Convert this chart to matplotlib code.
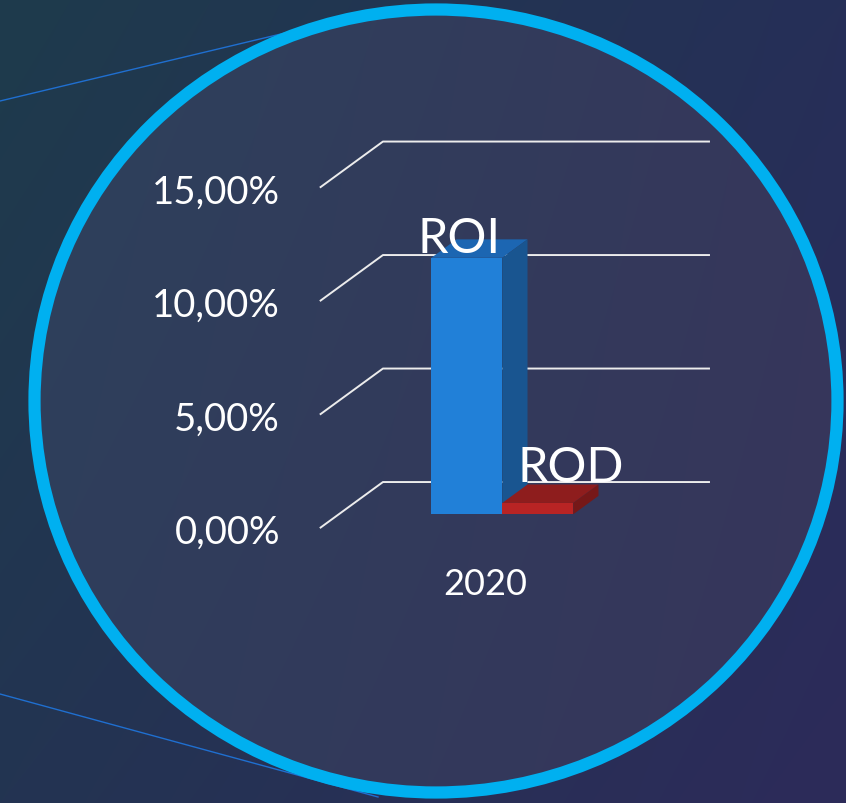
import numpy as np
import matplotlib.pyplot as plt
from matplotlib.patches import Ellipse, Polygon, Rectangle
from matplotlib.colors import to_rgb

# data
categories = ['2020']
series = ['ROI', 'ROD']
values = [11.3, 0.5]          # percent, one value per series for 2020
ticks = [0, 5, 10, 15]
tick_labels = ['0,00%', '5,00%', '10,00%', '15,00%']

W, H = 846, 804
FONT = 'Lato'

fig = plt.figure(figsize=(W / 100, H / 100), dpi=100)

# ---- background layer in pixel units ----
bg = fig.add_axes([0, 0, 1, 1])
bg.set_xlim(0, W)
bg.set_ylim(H, 0)
bg.axis('off')


def gradient(tl, tr, bl, br):
    tl, tr, bl, br = (np.array(to_rgb(c)) for c in (tl, tr, bl, br))
    u = np.linspace(0, 1, W)[None, :, None]
    v = np.linspace(0, 1, H)[:, None, None]
    top = tl * (1 - u) + tr * u
    bot = bl * (1 - u) + br * u
    return top * (1 - v) + bot * v


bg.imshow(gradient('#1e3b4c', '#262f58', '#233452', '#2d2b5a'),
          extent=(0, W, H, 0), zorder=0, aspect='auto')
inner = bg.imshow(gradient('#2d425c', '#36375c', '#2f3d5c', '#37355b'),
                  extent=(0, W, H, 0), zorder=1, aspect='auto')
clip = Ellipse((436, 402), 810, 790, transform=bg.transData)
inner.set_clip_path(clip)

# callout lines
bg.plot([0, 327], [102, 24], color='#1f6fd0', lw=1.0, zorder=2)
bg.plot([0, 378], [695, 798], color='#1f6fd0', lw=1.0, zorder=2)

# ring
bg.add_patch(Ellipse((436, 402), 803, 783, fill=False, ec='#00b0f0',
                     lw=8.8, zorder=3))

# ---- chart layer: x in category units, y in percent ----
ax = fig.add_axes([0, 0, 1, 1])
ax.set_xlim(-1.671, 0.916)
ax.set_ylim(-14.14, 21.28)
ax.axis('off')
ax.patch.set_alpha(0)

# oblique depth vector (back wall -> front edge of floor)
DX, DY = -0.193, -2.03
F_BACK, F_FRONT = 0.3, 0.7
bar_w = 0.217

# gridlines on the back wall with a side floor/wall edge
for t, lab in zip(ticks, tick_labels):
    ax.plot([-0.5 + DX, -0.5, 0.5], [t + DY, t, t], color='#ececec',
            lw=1.4, zorder=2, solid_capstyle='butt')
    ax.text(-0.5 + DX - 0.122, t + DY - 0.18, lab, ha='right', va='center',
            color='white', fontsize=27.5, family=FONT, zorder=5)

face = {'ROI': '#2180d8', 'ROD': '#b82424'}
top_c = {'ROI': '#1c66b2', 'ROD': '#8e1d1d'}
side_c = {'ROI': '#195590', 'ROD': '#761818'}
label_dx = {'ROI': -0.025, 'ROD': 0.1}
label_dy = {'ROI': -0.1, 'ROD': 0.62}


def draw_bar(x0, v, name, z):
    fx, fy = F_FRONT * DX, F_FRONT * DY
    bx, by = F_BACK * DX, F_BACK * DY
    ax.add_patch(Rectangle((x0 + fx, fy), bar_w, v, fc=face[name],
                           ec='none', zorder=z))
    ax.add_patch(Polygon([(x0 + fx, v + fy), (x0 + bar_w + fx, v + fy),
                          (x0 + bar_w + bx, v + by), (x0 + bx, v + by)],
                         closed=True, fc=top_c[name], ec='none', zorder=z))
    ax.add_patch(Polygon([(x0 + bar_w + fx, fy), (x0 + bar_w + fx, v + fy),
                          (x0 + bar_w + bx, v + by), (x0 + bar_w + bx, by)],
                         closed=True, fc=side_c[name], ec='none', zorder=z))
    ax.text(x0 + fx + bar_w / 2 + label_dx[name], v + fy + label_dy[name],
            name, ha='center', va='bottom', color='white', fontsize=35,
            family=FONT, zorder=z + 1)


for i, (name, v) in enumerate(zip(series, values)):
    x0 = -bar_w + i * bar_w
    draw_bar(x0, v, name, 3 + i)

# category label
for i, cat in enumerate(categories):
    ax.text(i + DX + 0.005, DY - 2.46, cat, ha='center', va='center',
            color='white', fontsize=26, family=FONT, zorder=5)

fig.savefig('out.png', dpi=100)
